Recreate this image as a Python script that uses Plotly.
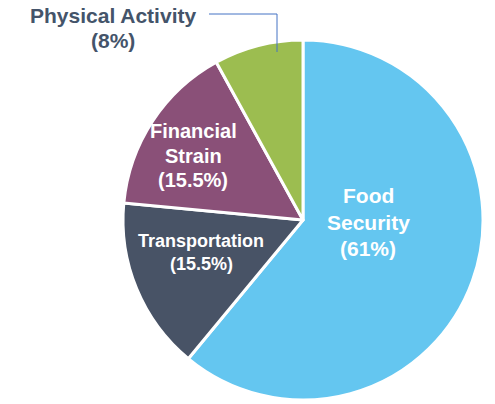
import plotly.graph_objects as go

W, H = 495, 404

categories = ["Food Security", "Transportation", "Financial Strain", "Physical Activity"]
values = [61, 15.5, 15.5, 8]
pct_labels = ["(61%)", "(15.5%)", "(15.5%)", "(8%)"]
colors = ["#64C6F0", "#485366", "#8A5078", "#9CBD50"]

def px(x):
    return x / W

def py(y):
    return (H - y) / H

cx, cy, r = 303, 220, 180

fig = go.Figure(go.Pie(
    labels=categories,
    values=values,
    sort=False,
    direction="clockwise",
    rotation=0,
    textinfo="none",
    hoverinfo="label+percent",
    marker=dict(colors=colors, line=dict(color="white", width=3)),
    domain=dict(x=[px(cx - r), px(cx + r)], y=[py(cy + r), py(cy - r)]),
    showlegend=False,
))

FAM = "Liberation Sans, Arial, sans-serif"

label_pos = {
    "Food Security": (368, 222, "Food<br>Security<br>" + pct_labels[0], 21, "white", 26.5),
    "Transportation": (201, 252, "Transportation<br>" + pct_labels[1], 18, "white", 23),
    "Financial Strain": (193, 156, "Financial<br>Strain<br>" + pct_labels[2], 20, "white", 24.5),
    "Physical Activity": (113, 28, "Physical Activity<br>" + pct_labels[3], 21, "#44546A", 25.5),
}

annotations = []
for name in categories:
    x, y, txt, size, col, lh = label_pos[name]
    lines = txt.split("<br>")
    n = len(lines)
    for i, line in enumerate(lines):
        yy = y + (i - (n - 1) / 2) * lh
        annotations.append(dict(
            x=px(x), y=py(yy), xref="paper", yref="paper",
            text="<b>" + line + "</b>", showarrow=False,
            font=dict(family=FAM, size=size, color=col),
            xanchor="center", yanchor="middle", borderpad=0,
        ))

shapes = [
    dict(type="line", xref="paper", yref="paper",
         x0=px(209), y0=py(14), x1=px(277), y1=py(14),
         line=dict(color="#4472C4", width=1)),
    dict(type="line", xref="paper", yref="paper",
         x0=px(277), y0=py(14), x1=px(277), y1=py(52),
         line=dict(color="#4472C4", width=1)),
]

fig.update_layout(
    width=W, height=H,
    margin=dict(l=0, r=0, t=0, b=0),
    paper_bgcolor="white", plot_bgcolor="white",
    annotations=annotations, shapes=shapes,
)

fig.write_html(
    "out.html",
    config={"displayModeBar": False},
    post_script="document.body.style.margin='0';document.body.style.overflow='hidden';",
)
